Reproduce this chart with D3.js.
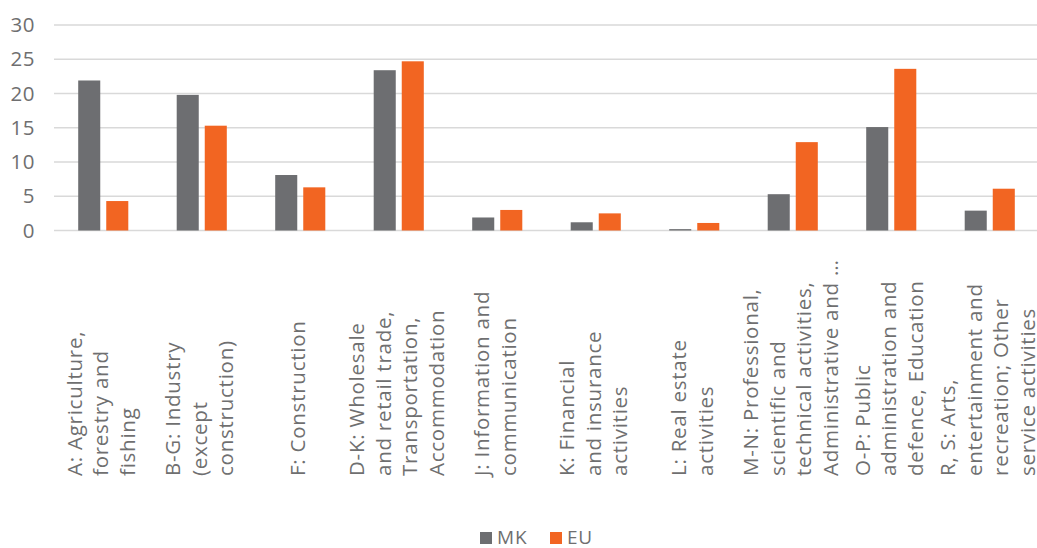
<!DOCTYPE html>
<html>
<head>
<meta charset="utf-8">
<script src="https://cdn.jsdelivr.net/npm/d3@7/dist/d3.min.js"></script>
<style>
  html, body { margin: 0; padding: 0; background: #fff; overflow: hidden; }
  svg { display: block; font-family: "Open Sans", "Noto Sans", sans-serif; }
</style>
</head>
<body>
<svg id="chart" width="1037" height="548"></svg>
<script>
// Sector codes and wrapped axis labels
const categories = ["A", "B-G", "F", "D-K", "J", "K", "L", "M-N", "O-P", "R-S"];
const categoryLines = [
  ["A: Agriculture,", "forestry and", "fishing"],
  ["B-G: Industry", "(except", "construction)"],
  ["F: Construction"],
  ["D-K: Wholesale", "and retail trade,", "Transportation,", "Accommodation"],
  ["J: Information and", "communication"],
  ["K: Financial", "and insurance", "activities"],
  ["L: Real estate", "activities"],
  ["M-N: Professional,", "scientific and", "technical activities,", "Administrative and \u2026"],
  ["O-P: Public", "administration and", "defence, Education"],
  ["R, S: Arts,", "entertainment and", "recreation; Other", "service activities"]
];

// Share of employment by sector (%)
const seriesNames = ["MK", "EU"];
const mkValues = [21.9, 19.8, 8.1, 23.4, 1.9, 1.2, 0.2, 5.3, 15.1, 2.9];
const euValues = [4.3, 15.3, 6.3, 24.7, 3.0, 2.5, 1.1, 12.9, 23.6, 6.1];
const yTicks = [0, 5, 10, 15, 20, 25, 30];

const colors = { MK: "#6d6e71", EU: "#f26522" };
const textColor = "#6f6f70";

const svg = d3.select("#chart");

const plot = { left: 54, right: 1039, top: 25, bottom: 230.5 };

const x0 = d3.scaleBand()
  .domain(categories)
  .range([plot.left, plot.right])
  .paddingInner(0.4914)
  .paddingOuter(0.2457);

const x1 = d3.scaleBand()
  .domain(seriesNames)
  .range([0, x0.bandwidth()])
  .paddingInner(0.214);

const y = d3.scaleLinear()
  .domain([0, 30])
  .range([plot.bottom, plot.top]);

// Horizontal gridlines
svg.append("g")
  .selectAll("line")
  .data(yTicks)
  .join("line")
  .attr("x1", plot.left)
  .attr("x2", plot.right)
  .attr("y1", d => y(d))
  .attr("y2", d => y(d))
  .attr("stroke", "#d9d9d9")
  .attr("stroke-width", 1.3);

// Y axis labels
const yAxis = d3.axisLeft(y).tickValues(yTicks).tickSize(0).tickPadding(0);
const yg = svg.append("g")
  .attr("transform", `translate(35,0)`)
  .call(yAxis);
yg.select(".domain").remove();
yg.selectAll("text")
  .attr("fill", textColor)
  .attr("font-size", 20.5)
  .attr("letter-spacing", 0.5)
  .attr("font-family", "Open Sans, sans-serif");

// Bars
const rows = categories.map((c, i) => ({ cat: c, MK: mkValues[i], EU: euValues[i] }));
const groups = svg.append("g")
  .selectAll("g")
  .data(rows)
  .join("g")
  .attr("transform", d => `translate(${x0(d.cat)},0)`);

groups.selectAll("rect")
  .data(d => seriesNames.map(s => ({ s, v: d[s] })))
  .join("rect")
  .attr("x", d => x1(d.s))
  .attr("width", x1.bandwidth())
  .attr("y", d => y(d.v))
  .attr("height", d => y(0) - y(d.v))
  .attr("fill", d => colors[d.s]);

// Rotated, wrapped category labels
const lineH = 26.5;
const labelBase = 476;
const labels = svg.append("g")
  .selectAll("g")
  .data(categories)
  .join("g")
  .attr("transform", d => `translate(${x0(d) + x0.bandwidth() / 2},${labelBase}) rotate(-90)`);

labels.each(function(d, i) {
  const lines = categoryLines[i];
  const n = lines.length;
  d3.select(this).selectAll("text")
    .data(lines)
    .join("text")
    .attr("x", 0)
    .attr("y", (t, j) => (j - (n - 1) / 2) * lineH + 5)
    .attr("text-anchor", "start")
    .attr("fill", textColor)
    .attr("font-size", 20.5)
    .attr("letter-spacing", 0.75)
    .text(t => t);
});

// Legend
const legend = svg.append("g").attr("transform", "translate(480,532)");
const legendItems = legend.selectAll("g")
  .data(seriesNames)
  .join("g")
  .attr("transform", (d, i) => `translate(${i * 70},0)`);
legendItems.append("rect")
  .attr("width", 12)
  .attr("height", 12)
  .attr("fill", d => colors[d]);
legendItems.append("text")
  .attr("x", 17)
  .attr("y", 12)
  .attr("fill", textColor)
  .attr("font-size", 19)
  .attr("letter-spacing", 0.8)
  .text(d => d);
</script>
</body>
</html>
